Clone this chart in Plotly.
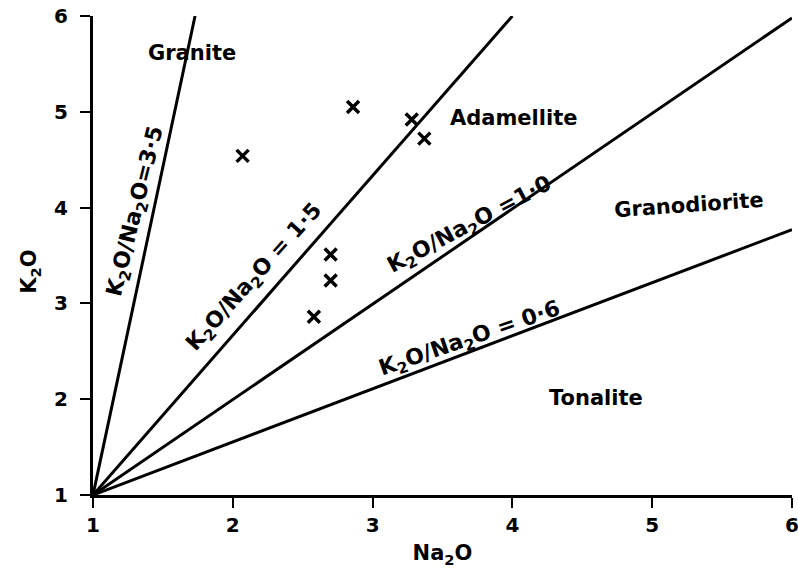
import plotly.graph_objects as go

# Boundary lines: all start at (1, 1), end points
ratio_labels = ["K<sub>2</sub>O/Na<sub>2</sub>O=3·5",
                "K<sub>2</sub>O/Na<sub>2</sub>O = 1·5",
                "K<sub>2</sub>O/Na<sub>2</sub>O =1·0",
                "K<sub>2</sub>O/Na<sub>2</sub>O = 0·6"]
line_start_x = [1, 1, 1, 1]
line_start_y = [1, 1, 1, 1]
line_end_x = [1.73, 4.0, 6.0, 6.0]
line_end_y = [6.0, 6.0, 5.98, 3.77]

# Line label positions / angles
label_x = [1.31, 2.16, 3.70, 3.70]
label_y = [3.96, 3.27, 3.81, 2.62]
label_angle = [-76, -48, -28, -19]

# Samples
na2o = [2.07, 2.86, 3.28, 3.37, 2.70, 2.70, 2.58]
k2o = [4.54, 5.05, 4.92, 4.72, 3.51, 3.24, 2.86]

# Field names
field_names = ["Granite", "Adamellite", "Granodiorite", "Tonalite"]
field_x = [1.71, 4.01, 5.26, 4.60]
field_y = [5.61, 4.94, 4.03, 2.01]
field_angle = [0, 0, -4, 0]

xticks = [1, 2, 3, 4, 5, 6]
yticks = [1, 2, 3, 4, 5, 6]

FONT = "DejaVu Sans"

fig = go.Figure()
for i in range(len(line_end_x)):
    fig.add_trace(go.Scatter(
        x=[line_start_x[i], line_end_x[i]], y=[line_start_y[i], line_end_y[i]],
        mode="lines", line=dict(color="black", width=3),
        showlegend=False, hoverinfo="skip", cliponaxis=False))

fig.add_trace(go.Scatter(
    x=na2o, y=k2o, mode="markers",
    marker=dict(symbol="x-thin", size=12, line=dict(color="black", width=3.5), color="black"),
    showlegend=False))

for i in range(len(ratio_labels)):
    fig.add_annotation(x=label_x[i], y=label_y[i], text="<b>" + ratio_labels[i] + "</b>",
                       textangle=label_angle[i], showarrow=False,
                       font=dict(family=FONT, size=22, color="black"))

for i in range(len(field_names)):
    fig.add_annotation(x=field_x[i], y=field_y[i], text="<b>" + field_names[i] + "</b>",
                       textangle=field_angle[i], showarrow=False,
                       font=dict(family=FONT, size=21, color="black"))

# y-axis title placed as in the reference
fig.add_annotation(xref="paper", x=0, y=3.33, xanchor="center", yanchor="middle",
                   xshift=-63, textangle=-90, showarrow=False,
                   text="<b>K<sub>2</sub>O</b>", font=dict(family=FONT, size=21, color="black"))

fig.update_layout(
    width=798, height=577,
    margin=dict(l=93, r=6, t=16, b=82),
    paper_bgcolor="white", plot_bgcolor="white",
    font=dict(family=FONT, size=20, color="black"),
)
fig.update_xaxes(
    range=[1, 6], tickvals=xticks, ticktext=["<b>%d</b>" % v for v in xticks],
    automargin=False, ticklabeloverflow="allow",
    showgrid=False, zeroline=False, showline=True, linecolor="black", linewidth=3,
    ticks="outside", ticklen=10, tickwidth=2, tickcolor="black",
    title=dict(text="<b>Na<sub>2</sub>O</b>", standoff=10, font=dict(size=21)))
fig.update_yaxes(
    range=[1, 6], tickvals=yticks, ticktext=["<b>%d</b>" % v for v in yticks],
    automargin=False, ticklabelstandoff=8, ticklabeloverflow="allow",
    showgrid=False, zeroline=False, showline=True, linecolor="black", linewidth=3,
    ticks="outside", ticklen=10, tickwidth=2, tickcolor="black")

fig.write_html("out.html", config={"displayModeBar": False},
               post_script="document.body.style.margin='0';")
